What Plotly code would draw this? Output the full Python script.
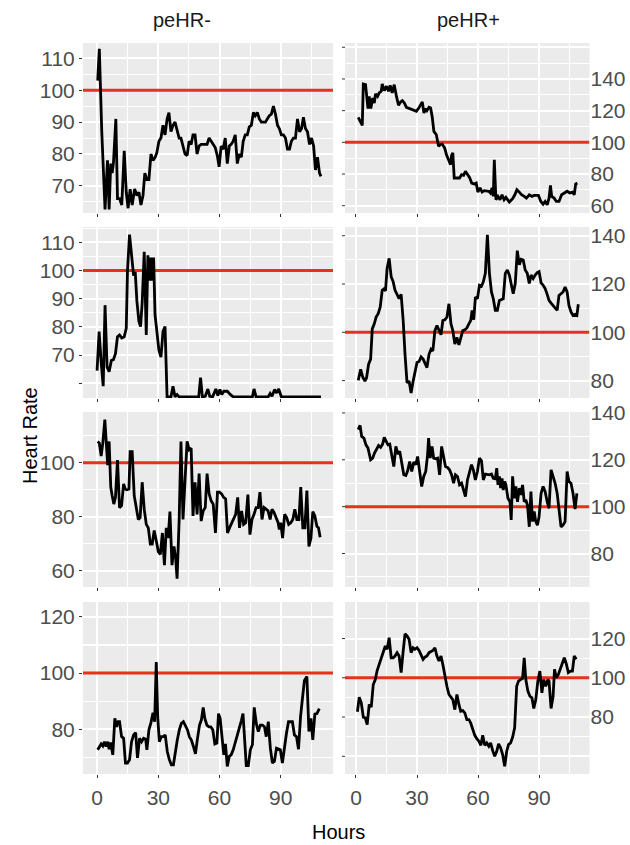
import plotly.graph_objects as go

# ---------------- data ----------------
THRESHOLD = 100
COL_TITLES = ["peHR-", "peHR+"]
X_TICKS = [0, 30, 60, 90]

p1_hours = [0.3,1.1,2.3,3.9,5.1,5.9,6.7,7.4,8.0,9.2,10.0,11.0,12.1,13.3,14.3,15.2,16.2,17.2,18.4,19.5,
            20.5,21.5,22.5,23.4,24.4,25.4,26.4,27.4,28.5,29.3,30.3,31.3,32.3,33.3,34.3,35.2,36.2,37.2,38.2,39.2,
            40.2,41.1,42.1,43.1,44.1,45.1,46.1,47.0,48.0,49.0,50.0,51.0,52.0,53.0,53.9,54.9,55.9,56.9,57.9,58.9,
            59.8,60.8,61.8,62.8,63.8,64.8,65.7,66.7,67.7,68.7,69.7,70.7,71.6,72.6,73.6,74.6,75.6,76.6,77.5,78.5,
            79.5,80.5,81.5,82.5,83.4,84.4,85.4,86.4,87.4,88.4,89.3,90.3,91.3,92.3,93.3,94.3,95.2,96.2,97.2,98.2,
            99.2,100.2,101.1,102.1,103.1,104.1,105.1,106.1,107.0,108.0,109.0,109.7]
p1_hr = [103,113,87,62.6,78,62.6,77,74,77,91,66,66,64,81,68,63,69,64,69,67,
         68,64,67,74,72,72,80,78,79,80.5,84,85,89,86,91,93,87,89,90,87,
         85,85,82,80,79.5,84,83,86,86,80,82.5,83,83,83,83,85,84,83,82,79.5,
         76,82.5,81.5,85,77,82.5,83,84,86,77,80,79,84,86,86,88.5,89,93,92,93,
         91,90,90,90,91,92,92.5,95,92.5,89,88,86,86,85,81.5,81.5,84,85,85,91,
         87,88,91.5,88,87,83,85,82.5,75,79,74,73]

p2_hours = [1.1,2.3,3.1,3.6,4.7,5.9,6.5,7.3,8.2,9.0,9.6,10.6,11.4,12.4,12.9,13.9,15.0,16.0,16.8,17.8,
            18.8,19.9,20.9,21.9,22.8,23.8,24.8,26.4,28.1,29.7,30.7,31.8,32.6,33.4,34.3,34.9,35.9,36.7,37.5,38.3,
            39.5,40.6,41.4,42.4,43.6,44.5,45.5,46.5,47.0,47.6,48.3,49.6,50.9,51.9,52.9,53.8,54.8,55.8,56.9,58.1,
            59.1,59.9,61.0,62.0,63.1,64.1,65.3,66.1,66.9,67.5,68.0,68.8,69.8,70.8,71.8,72.8,73.7,75.4,77.0,78.1,
            79.1,80.3,81.4,82.7,83.8,85.2,86.5,87.6,88.7,89.7,90.9,92.0,93.0,94.0,94.9,95.6,96.2,97.4,98.5,99.8,
            101.1,102.4,103.8,105.1,106.4,107.3,108.0,108.8]
p2_hr = [115.8,112.2,110.7,136.8,136.4,121.3,129,121.3,128,124.8,130.5,129,131.2,132.2,136.8,132.6,135.4,132.2,136,131.2,
         136.4,129,123.4,125.5,126.3,124.8,122.1,121.3,120.4,119.6,121.3,124.2,125.5,118.5,121.3,120,122.1,121.7,115.8,106.9,
         104.8,97.5,98.5,98.9,96.4,92.2,89,85.9,91.8,93.3,77.5,77.5,77.5,79.6,79.2,81.7,80,77.9,74.3,73.7,
         74.3,68.6,71.2,68.6,69.5,69.1,69.1,68,71.2,65.9,89,63.8,65.9,63.8,66.9,63.8,65.3,62.3,64.4,66.9,
         70.1,68.6,66.9,65.9,64.8,66.9,65.9,66.5,66.5,66.5,62.7,61,62.7,60.6,64.8,72.8,65.9,64.8,62.7,62.7,
         66.9,68,69.1,68,68.6,66.9,73.7,74.3]

p3_hours = [0,1.0,2.0,3.0,3.9,4.9,5.9,7.0,8.0,9.0,10.0,11.0,12.1,13.3,14.3,14.9,15.9,16.9,17.9,18.7,
            19.5,20.5,21.3,22.1,23.1,24.1,24.9,25.7,26.4,27.0,27.7,28.4,29.3,30.3,31.3,32.3,33.3,34.3,36.2,37.2,
            38.2,39.2,40.2,49.8,50.7,51.6,53.0,54.3,55.2,56.6,58.2,59.2,60.2,61.1,62.1,63.8,65.4,66.7,76.1,76.9,
            77.9,83.8,84.8,85.7,87.0,88.0,89.0,90.3,109.7]
p3_hr = [64.5,78.3,67.5,59,87.7,65.7,64.1,68.1,68.4,70.5,76.5,77.1,76.1,76.5,79.5,100,112.7,104.8,98.2,99.4,
         89.2,81.9,80.1,88.6,106.6,77.1,105.4,96.4,104.6,96.4,104.6,84.3,78.3,71.7,69.3,78.3,80.1,55.2,55.2,59,
         55.2,56,55.2,55.2,62,55.2,55.4,58,55.4,55.2,58,55.7,57.8,56,57.2,57.2,56,55.2,55.2,58,
         55.2,55.2,56.4,55.4,57.8,56.6,58,55.2,55.2]

p4_hours = [1.1,2.3,3.3,4.4,5.2,6.2,7.2,8.0,9.0,9.9,10.9,11.9,12.9,13.9,14.5,15.3,16.3,17.3,18.3,19.2,
            20.2,21.2,22.2,23.2,24.1,25.1,26.1,27.1,28.1,29.0,30.0,31.0,32.0,33.0,33.9,34.9,35.9,36.9,37.8,38.8,
            39.8,40.8,41.8,42.7,43.7,44.7,45.7,46.7,47.6,48.6,49.6,50.6,51.5,52.5,53.5,54.5,55.5,56.4,57.1,57.9,
            58.7,59.7,60.7,61.7,62.6,63.6,64.6,65.6,66.6,67.5,68.5,69.5,70.5,71.5,72.4,73.4,74.4,75.4,76.4,77.3,
            78.3,79.3,80.3,81.2,82.2,83.2,84.2,85.2,86.1,87.1,88.1,89.1,90.0,91.0,92.0,93.0,94.0,94.9,95.9,96.9,
            97.9,98.9,99.8,100.8,101.8,102.8,103.8,104.7,105.7,106.7,107.7,108.6,109.3]
p4_hr = [80.1,84.7,81.5,79.8,81.2,86.8,88.9,101.4,103.5,106.3,107.7,110.4,117.4,118.1,117.1,126.5,130.6,123,120.9,117.4,
         115.7,113.9,115.7,104.9,90.9,79.1,79.8,74.9,79.8,84,87.5,87.9,89.8,88.9,87,85.4,90.9,93,92.3,100.7,
         102.8,100.7,99,104.9,105.2,106.3,111.8,103.5,100.7,95.1,97.9,94.8,97.2,100.7,101,101.8,103.5,104.9,109.1,105.2,
         114.6,113.9,119.5,119.1,120.9,124.4,140.4,124.4,116.7,113.9,109.1,109.1,113.2,113.5,113.9,124.4,125.8,123.7,119.5,116,
         120.2,133.8,127.9,130.2,129.9,125.8,124.4,120.2,123.7,122.3,123.7,124.7,125.1,120.5,119.5,118.1,115.7,113.2,112.1,111.1,
         110.2,109.1,115.3,116,116.7,118.8,116.7,111.1,108.4,107,107.4,107,111.6]

p5_hours = [0.3,1.1,2.0,2.8,3.8,4.4,5.2,5.9,6.7,7.4,8.2,9.0,10.0,11.0,12.0,13.0,13.8,14.6,15.6,16.2,
            17.2,18.2,19.2,20.2,21.1,22.1,23.1,24.1,25.1,26.1,27.0,28.0,29.0,30.0,31.0,32.0,33.0,33.9,34.8,35.7,
            36.7,37.7,38.5,39.2,40.2,41.1,42.1,43.1,44.1,45.1,46.1,47.0,48.0,49.0,50.0,51.0,52.0,53.0,53.9,54.9,
            55.9,56.9,58.0,59.0,60.0,61.0,62.0,63.0,63.9,64.9,65.9,66.9,67.9,68.9,69.8,70.8,71.8,72.8,73.9,74.9,
            75.9,76.9,77.9,78.9,79.8,80.8,81.8,82.8,83.8,84.8,85.7,86.7,87.7,88.7,89.3,90.0,90.9,91.9,92.9,93.9,
            94.9,95.9,96.9,97.9,98.9,99.8,100.8,101.8,102.8,103.8,104.8,105.7,106.7,107.7,108.5,109.3]
p5_hr = [107.9,107.3,102.5,107.3,116,106.6,99.1,107.9,91,87.8,84.7,87.2,101,83.4,84.1,92.2,90.3,90,90.3,104.1,
         104.1,87.8,83.4,79,79.7,92.8,82.8,77.2,75.9,69.9,69.9,74.9,71.1,67.1,66.1,74,62.1,75.9,72.1,81.9,
         62.1,69,64.6,57.1,78.4,107.9,79,92.2,107.9,104.8,105.4,80.3,92.8,80.9,96,78.4,82.2,83.4,96,88.5,
         85.9,84.7,74,89.1,89.1,88.5,87.2,86.6,74,75.9,77.8,79.7,80.9,87.2,75.9,82.2,77.2,77.8,88.2,73.4,
         79,80.9,83.4,83.4,89.1,79,83.4,82.8,82.2,79,82.8,81.6,79.7,77.8,75.3,77.8,72.1,80.9,79.7,77.2,
         77.8,79,82.8,79,79,91,75.9,75.9,89.7,69,72.1,81.9,80.3,76.5,75.9,72.4]

p6_hours = [1.1,2.0,2.8,3.9,4.9,5.9,7.2,8.2,9.1,10.1,11.1,12.1,13.1,13.9,14.7,15.7,16.6,17.6,18.6,19.6,
            20.6,21.5,22.5,23.5,24.5,25.4,26.4,27.4,28.4,29.4,30.3,31.3,32.3,33.3,34.3,35.2,35.7,36.5,37.4,38.2,
            39.2,40.1,41.1,42.1,43.1,44.0,45.0,46.0,47.0,48.0,48.9,49.9,50.9,51.9,52.9,53.8,54.8,55.8,56.8,57.7,
            58.7,59.7,60.7,61.7,62.6,63.6,64.6,65.6,66.6,67.5,68.5,69.2,69.8,70.5,71.1,71.8,72.4,73.1,73.7,74.7,
            75.7,76.3,77.0,77.8,78.6,79.4,80.3,81.1,81.9,82.7,83.5,84.3,85.2,86.0,86.8,87.6,88.4,89.2,90.0,91.0,
            92.0,93.0,94.0,94.9,95.9,96.9,97.9,98.9,99.8,100.8,101.8,102.8,103.8,104.7,105.7,106.7,107.7,108.6]
p6_hr = [132.9,134.7,130,129.3,126.4,125,120,120.7,122.9,124.7,126.1,125.3,126.7,129.6,128.1,126.4,126.7,122.1,117.1,125.7,
         122.4,123.6,118.6,113.6,113.3,115.3,119.3,115,119,117.9,121.4,113.6,108.6,112.9,115,122.1,129.3,120.7,125.7,120.7,
         120.4,120.7,113.6,125.7,121.4,117.1,116.7,115.7,113.6,110,113.6,112.9,109.3,110,107.1,104.3,111.4,114.3,117.9,115.7,
         111.4,115,120.7,119.6,111.4,113.9,113.6,113.6,113.9,112.1,111.9,116.4,109.3,112.9,107.9,112.1,107.1,110.7,109.3,103.6,
         102.1,94.3,112.9,103.6,108.6,102.1,107.9,105,109.3,102.1,102.9,100.7,91.4,106.4,93.6,97.9,93.6,92.1,95.7,105.7,
         108.6,106.4,102.1,99.3,115.7,112.9,110,105.7,97.9,91.4,92.1,93.6,115,110.7,110,105.7,99,105.7]

p7_hours = [0.3,1.1,2.0,2.8,3.6,4.4,5.2,5.9,6.7,7.7,8.7,9.5,10.3,11.0,12.0,13.0,13.9,14.9,15.9,16.9,
            17.9,18.9,19.8,20.8,21.8,22.8,23.8,24.4,25.4,26.4,27.4,28.2,29.0,29.7,30.5,31.5,32.5,33.4,34.4,35.4,
            36.4,37.4,38.4,39.3,40.3,41.3,42.3,43.3,44.3,45.2,46.2,47.2,48.2,49.2,50.2,51.1,52.0,52.8,53.8,54.8,
            55.7,56.7,57.7,58.7,59.5,60.3,61.3,62.1,62.9,63.8,64.8,65.7,66.7,67.7,68.7,69.7,70.7,71.5,72.3,73.1,
            74.1,75.1,76.1,77.0,78.0,79.0,80.0,81.0,82.0,82.9,83.9,84.9,85.9,86.9,87.9,88.9,89.8,90.8,91.8,92.8,
            93.8,94.8,95.7,96.7,97.7,98.7,99.7,100.7,101.6,102.8,103.8,104.8,105.7,106.7,107.7,108.9]
p7_hr = [72.7,73.9,74.8,74.1,75.6,73.9,75.6,72.9,75.3,70.9,83.9,80.9,82.7,82.7,77.4,76.8,68,68,69.2,75.6,
         78,78.8,69.8,76.8,75.6,76.8,76.5,72.7,79.8,82.4,85.9,82.7,103.9,84.5,75.6,77.4,77.4,78,72.1,69.2,
         67.4,67.4,72.7,76.2,79.8,82.1,82.7,81.5,79.8,77.4,76.2,73.9,71.3,76.8,81.5,83.3,87.8,83.9,81.5,80.9,
         80.9,79.8,74.8,75.1,85.6,83.9,77.4,70.9,74.8,66.8,70.4,70.9,72.7,75.1,77.4,79.8,83.1,85.6,77.4,67.1,
         67.1,72.7,74.5,87.8,82.1,79.2,81.5,81.5,80.9,77.4,82.7,73.3,68,68.6,73.3,72.9,72.7,68,73.9,78.6,
         82.7,82.7,82.7,78,77.4,72.9,84.5,91.5,97.4,98.8,79.2,83.9,76.2,85.4,85.6,87.4]

p8_hours = [0.7,1.6,2.6,3.6,4.6,5.5,6.5,7.5,8.5,9.5,10.4,11.4,12.4,13.4,14.4,15.3,16.3,17.3,18.3,19.2,
            20.2,21.2,22.2,23.2,24.1,25.1,26.1,27.1,28.1,29.0,30.0,31.0,32.0,33.0,33.9,34.9,35.9,36.9,37.8,38.8,
            39.8,40.8,41.8,42.7,43.7,44.7,45.7,46.7,47.6,48.6,49.6,50.6,51.5,52.5,53.5,54.5,55.5,56.4,57.4,58.4,
            59.4,60.4,61.4,62.3,63.3,64.3,65.3,66.2,67.2,68.2,69.2,70.1,71.1,72.1,73.1,74.1,75.0,76.0,77.0,78.0,
            79.0,79.9,80.9,81.9,82.7,83.5,84.5,85.5,86.5,87.4,88.4,89.4,90.4,91.4,92.3,93.3,94.3,94.9,95.9,96.9,
            97.6,98.5,99.5,100.5,101.5,102.4,103.4,104.4,105.4,106.4,107.3,108.3]
p8_hr = [82.7,90.1,87.2,79.9,79.6,76.2,86.4,85,96.6,99.1,103.7,106.8,109.4,112.8,116.2,114.5,120.4,110.2,110.2,111.1,
         112.8,111.1,102.6,113.6,122.4,121.3,119.6,112.8,115.3,114.5,115.3,113.9,111.1,109.4,110.5,111.1,112.8,113.3,113.9,115.3,
         111.1,108.5,111.1,106.8,100,95.7,91.5,89.8,88.9,83.8,91.5,86.4,83,83.3,82.1,78.7,78.7,77,74.1,70.7,
         69,67.7,65.6,70.7,65.6,66.8,65.1,66.8,62.9,60,62.6,66.3,64.3,60.9,54.9,62.6,66,66.8,69.7,74.5,
         95.7,98.3,99.1,99.7,110.2,99.1,93.2,90.6,89.8,84.4,88.9,98.3,103.4,92.3,99.1,95.7,99.1,98.3,84.4,90.6,
         104.3,100,101.7,104.3,107.7,110.2,107.1,102.6,103.4,103.4,111.1,109.4]

# y tick values / labels per panel (as shown in the reference)
p1_yticks, p1_ylabels = [70, 80, 90, 100, 110], ["70", "80", "90", "100", "110"]
p2_yticks, p2_ylabels = [60, 80, 100, 120, 140, 160], ["60", "80", "100", "120", "140", ""]
p3_yticks, p3_ylabels = [60, 70, 80, 90, 100, 110], ["", "70", "80", "90", "100", "110"]
p4_yticks, p4_ylabels = [80, 100, 120, 140], ["80", "100", "120", "140"]
p5_yticks, p5_ylabels = [60, 80, 100], ["60", "80", "100"]
p6_yticks, p6_ylabels = [80, 100, 120, 140], ["80", "100", "120", "140"]
p7_yticks, p7_ylabels = [80, 100, 120], ["80", "100", "120"]
p8_yticks, p8_ylabels = [60, 80, 100, 120], ["", "80", "100", "120"]

# ---------------- styling / layout ----------------
W, H = 630, 845
FONT = "Liberation Sans, Arial, Helvetica, sans-serif"
PANEL_BG = "#EBEBEB"
TICK_COL = "#4D4D4D"
TICK_MARK = "#333333"
LINE_COL = "#000000"
RED = "#E4321F"

col_px = [(83, 333), (345, 589.5)]
row_px = [(43, 213), (227, 398), (412, 587), (602, 774)]
x_ranges = [[-6.9, 115.6], [-5.4, 114.8]]
y_ranges = [[61.5, 114.8], [55.4, 162.7], [54.8, 115.4], [72.8, 143.6],
            [54.0, 118.8], [65.7, 140.4], [64.1, 125.3], [51.0, 138.6]]
y_minor = [5, 10, 5, 10, 10, 10, 10, 10]

panels = [
    (p1_hours, p1_hr, p1_yticks, p1_ylabels),
    (p2_hours, p2_hr, p2_yticks, p2_ylabels),
    (p3_hours, p3_hr, p3_yticks, p3_ylabels),
    (p4_hours, p4_hr, p4_yticks, p4_ylabels),
    (p5_hours, p5_hr, p5_yticks, p5_ylabels),
    (p6_hours, p6_hr, p6_yticks, p6_ylabels),
    (p7_hours, p7_hr, p7_yticks, p7_ylabels),
    (p8_hours, p8_hr, p8_yticks, p8_ylabels),
]

fig = go.Figure()
layout = {}
shapes = []

for i, (hx, hy, yt, yl) in enumerate(panels):
    r, c = divmod(i, 2)
    n = i + 1
    xk = "xaxis" if n == 1 else f"xaxis{n}"
    yk = "yaxis" if n == 1 else f"yaxis{n}"
    xref = "x" if n == 1 else f"x{n}"
    yref = "y" if n == 1 else f"y{n}"
    x0, x1 = col_px[c]
    t, b = row_px[r]
    layout[xk] = dict(
        domain=[x0 / W, x1 / W], anchor=yref, range=x_ranges[c], automargin=False,
        tickmode="array", tickvals=X_TICKS, ticktext=[str(v) for v in X_TICKS],
        showticklabels=(r == 3), ticks="outside", ticklen=3, tickwidth=1, tickcolor=TICK_MARK,
        tickfont=dict(family=FONT, size=21, color=TICK_COL),
        showgrid=True, gridcolor="white", gridwidth=2,
        minor=dict(tick0=15, dtick=30, showgrid=True, gridcolor="white", gridwidth=1.1),
        zeroline=False, showline=False, fixedrange=True,
        ticklabelstandoff=2,
    )
    layout[yk] = dict(
        domain=[1 - b / H, 1 - t / H], anchor=xref, range=y_ranges[i], automargin=False,
        side="left" if c == 0 else "right",
        tickmode="array", tickvals=yt, ticktext=yl,
        ticks="outside" if c == 0 else "", ticklen=3, tickwidth=1, tickcolor=TICK_MARK,
        tickfont=dict(family=FONT, size=21, color=TICK_COL),
        showgrid=True, gridcolor="white", gridwidth=2,
        minor=dict(tick0=0, dtick=y_minor[i], showgrid=True, gridcolor="white", gridwidth=1.1),
        zeroline=False, showline=False, fixedrange=True,
        ticklabelstandoff=0,
    )
    # panel background
    shapes.append(dict(type="rect", xref="paper", yref="paper", layer="below",
                       x0=x0 / W, x1=x1 / W, y0=1 - b / H, y1=1 - t / H,
                       fillcolor=PANEL_BG, line=dict(width=0)))
    # small left-side tick marks on the right-hand column (no labels there)
    if c == 1:
        for v in yt:
            if y_ranges[i][0] <= v <= y_ranges[i][1]:
                shapes.append(dict(type="line", xref="paper", yref=yref,
                                   x0=(x0 - 3) / W, x1=x0 / W, y0=v, y1=v,
                                   line=dict(color=TICK_MARK, width=1)))
    # threshold line (drawn as a trace under the data line)
    fig.add_trace(go.Scatter(x=x_ranges[c], y=[THRESHOLD, THRESHOLD], mode="lines",
                             xaxis=xref, yaxis=yref, line=dict(color=RED, width=3),
                             showlegend=False, hoverinfo="skip"))
    fig.add_trace(go.Scatter(x=hx, y=hy, mode="lines", xaxis=xref, yaxis=yref,
                             line=dict(color=LINE_COL, width=2.8), showlegend=False,
                             hoverinfo="skip"))

annotations = [
    dict(text=COL_TITLES[0], x=182 / W, y=1 - 20 / H, xref="paper", yref="paper",
         showarrow=False, font=dict(family=FONT, size=20, color="#1A1A1A"),
         xanchor="center", yanchor="middle"),
    dict(text=COL_TITLES[1], x=468 / W, y=1 - 20 / H, xref="paper", yref="paper",
         showarrow=False, font=dict(family=FONT, size=20, color="#1A1A1A"),
         xanchor="center", yanchor="middle"),
    dict(text="Heart Rate", x=30 / W, y=1 - 436 / H, xref="paper", yref="paper",
         showarrow=False, textangle=-90, font=dict(family=FONT, size=20, color="#000000"),
         xanchor="center", yanchor="middle"),
    dict(text="Hours", x=338 / W, y=1 - 832 / H, xref="paper", yref="paper",
         showarrow=False, font=dict(family=FONT, size=20, color="#000000"),
         xanchor="center", yanchor="middle"),
]

fig.update_layout(
    width=W, height=H, margin=dict(l=0, r=0, t=0, b=0),
    paper_bgcolor="white", plot_bgcolor="rgba(0,0,0,0)",
    shapes=shapes, annotations=annotations, showlegend=False,
    **layout,
)

fig.write_html(
    "out.html",
    config={"displayModeBar": False, "staticPlot": True},
    post_script="document.body.style.margin='0';document.body.style.padding='0';"
                "document.body.style.overflow='hidden';",
)
